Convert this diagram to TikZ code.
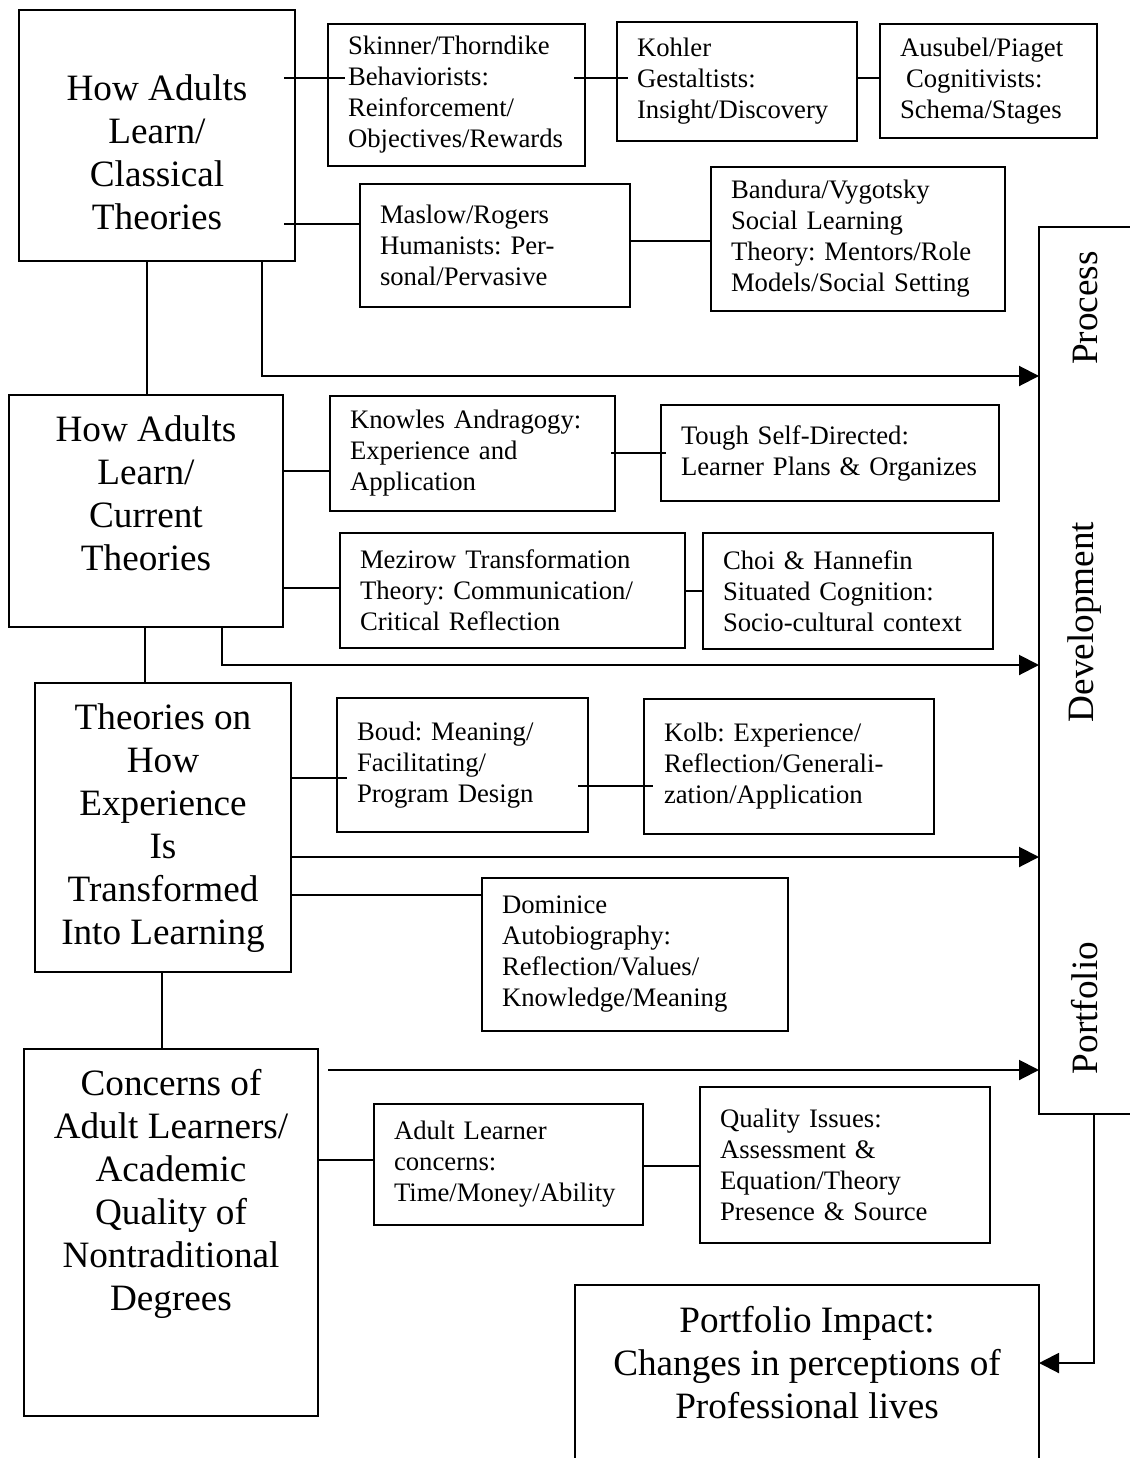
\documentclass[tikz,border=0pt]{standalone}
\usepackage{fontspec}
\setmainfont{Liberation Serif}
\frenchspacing
\usetikzlibrary{arrows.meta}
\begin{document}
\begin{tikzpicture}[x=1pt,y=-1pt,line width=2pt,>={Triangle[length=20pt,width=20pt]},
  smallbox/.style={draw, inner xsep=20pt, inner ysep=0pt, align=left, font=\fontsize{26.7}{31}\selectfont},
  bigbox/.style={draw, inner sep=0pt},
  bigtext/.style={align=center, font=\fontsize{37.2}{43}\selectfont}]
\useasboundingbox (0,0) rectangle (1129,1458);
\node[bigbox, minimum width=276pt, minimum height=251pt] (A) at (157,135.5) {};
\node[bigtext] (A-txt) at (157,152) {How Adults\\Learn/\\Classical\\Theories};
\node[bigbox, minimum width=274pt, minimum height=232pt] (B) at (146,511) {};
\node[bigtext] (B-txt) at (146,493) {How Adults\\Learn/\\Current\\Theories};
\node[bigbox, minimum width=256pt, minimum height=289pt] (C) at (163,827.5) {};
\node[bigtext] (C-txt) at (163,828) {Theories on\\How\\Experience\\Is\\Transformed\\Into Learning};
\node[bigbox, minimum width=294pt, minimum height=367pt] (D) at (171,1232.5) {};
\node[bigtext] (D-txt) at (171,1194) {Concerns of\\Adult Learners/\\Academic\\Quality of\\Nontraditional\\Degrees};
\node[smallbox, text width=217pt, minimum height=142pt] (skin) at (456.5,95) {Skinner/Thorndike\\Behaviorists:\\Reinforcement/\\Objectives/Rewards};
\node[smallbox, text width=200pt, minimum height=119pt] (kohl) at (737,81.5) {Kohler\\Gestaltists:\\Insight/Discovery};
\node[smallbox, text width=177pt, minimum height=114pt] (ausu) at (988.5,81) {Ausubel/Piaget\\\hspace*{6pt}Cognitivists:\\Schema/Stages};
\node[smallbox, text width=230pt, minimum height=123pt] (masl) at (495,245.5) {Maslow/Rogers\\Humanists: Per-\\sonal/Pervasive};
\node[smallbox, text width=254pt, minimum height=143pt] (band) at (858,239) {Bandura/Vygotsky\\Social Learning\\Theory: Mentors/Role\\Models/Social Setting};
\node[smallbox, text width=245pt, minimum height=115pt] (know) at (472.5,453.5) {Knowles Andragogy:\\Experience and\\Application};
\node[smallbox, text width=298pt, minimum height=96pt] (tough) at (830,453) {Tough Self-Directed:\\Learner Plans \& Organizes};
\node[smallbox, text width=305pt, minimum height=115pt] (mezi) at (512.5,590.5) {Mezirow Transformation\\Theory: Communication/\\Critical Reflection};
\node[smallbox, text width=250pt, minimum height=116pt] (choi) at (848,591) {Choi \& Hannefin\\Situated Cognition:\\Socio-cultural context};
\node[smallbox, text width=211pt, minimum height=134pt] (boud) at (462.5,765) {Boud: Meaning/\\Facilitating/\\Program Design};
\node[smallbox, text width=250pt, minimum height=135pt] (kolb) at (789,766.5) {Kolb: Experience/\\Reflection/Generali-\\zation/Application};
\node[smallbox, text width=266pt, minimum height=153pt] (domi) at (635,954.5) {Dominice\\Autobiography:\\Reflection/Values/\\Knowledge/Meaning};
\node[smallbox, text width=229pt, minimum height=121pt] (adult) at (508.5,1164.5) {Adult Learner\\concerns:\\Time/Money/Ability};
\node[smallbox, text width=250pt, minimum height=156pt] (qual) at (845,1165) {Quality Issues:\\Assessment \&\\Equation/Theory\\Presence \& Source};
\node[minimum width=89pt, minimum height=885pt, inner sep=0pt] (pdp) at (1084.5,670.5) {};
\draw (pdp.north east) -- (pdp.north west) -- (pdp.south west) -- (pdp.south east);
\node[bigtext, rotate=90] (proc) at (1085,308) {Process};
\node[bigtext, rotate=90] (dev) at (1085,622) {Development};
\node[bigtext, rotate=90] (port) at (1085,1008) {Portfolio};
\node[bigtext, minimum width=462pt, minimum height=154pt, inner sep=0pt] (impact) at (807,1363) {Portfolio Impact:\\Changes in perceptions of\\Professional lives};
\draw ([yshift=-20pt]impact.south west) -- (impact.north west) -- (impact.north east) -- ([yshift=-20pt]impact.south east);
\draw (A.east |- 0,78) ++(-12,0) -- (skin.west |- 0,78) -- ++(18,0);
\draw (skin.east |- 0,78) ++(-12,0) -- (kohl.west |- 0,78) -- ++(12,0);
\draw (kohl.east |- 0,78) -- (ausu.west |- 0,78);
\draw (A.east |- 0,224) ++(-12,0) -- (masl.west |- 0,224);
\draw (masl.east |- 0,241) -- (band.west |- 0,241);
\draw (A.south -| 147,0) -- (B.north -| 147,0);
\draw[->] (A.south -| 262,0) |- (pdp.west |- 0,376);
\draw (B.east |- 0,471) -- (know.west |- 0,471);
\draw (know.east |- 0,453) ++(-5,0) -- (tough.west |- 0,453) -- ++(6,0);
\draw (B.east |- 0,588) -- (mezi.west |- 0,588);
\draw (mezi.east |- 0,591) -- (choi.west |- 0,591);
\draw (B.south -| 145,0) -- (C.north -| 145,0);
\draw[->] (B.south -| 222,0) |- (pdp.west |- 0,665);
\draw (C.east |- 0,778) -- (boud.west |- 0,778) -- ++(11,0);
\draw (boud.east |- 0,786) ++(-11,0) -- (kolb.west |- 0,786) -- ++(10,0);
\draw[->] (C.east |- 0,857) -- (pdp.west |- 0,857);
\draw (C.east |- 0,895) -- (domi.west |- 0,895);
\draw (C.south -| 162,0) -- (D.north -| 162,0);
\draw[->] (D.east |- 0,1070) ++(9,0) -- (pdp.west |- 0,1070);
\draw (D.east |- 0,1160) -- (adult.west |- 0,1160);
\draw (adult.east |- 0,1166) -- (qual.west |- 0,1166);
\draw[->] (pdp.south -| 1094,0) |- (impact.east);
\end{tikzpicture}
\end{document}
